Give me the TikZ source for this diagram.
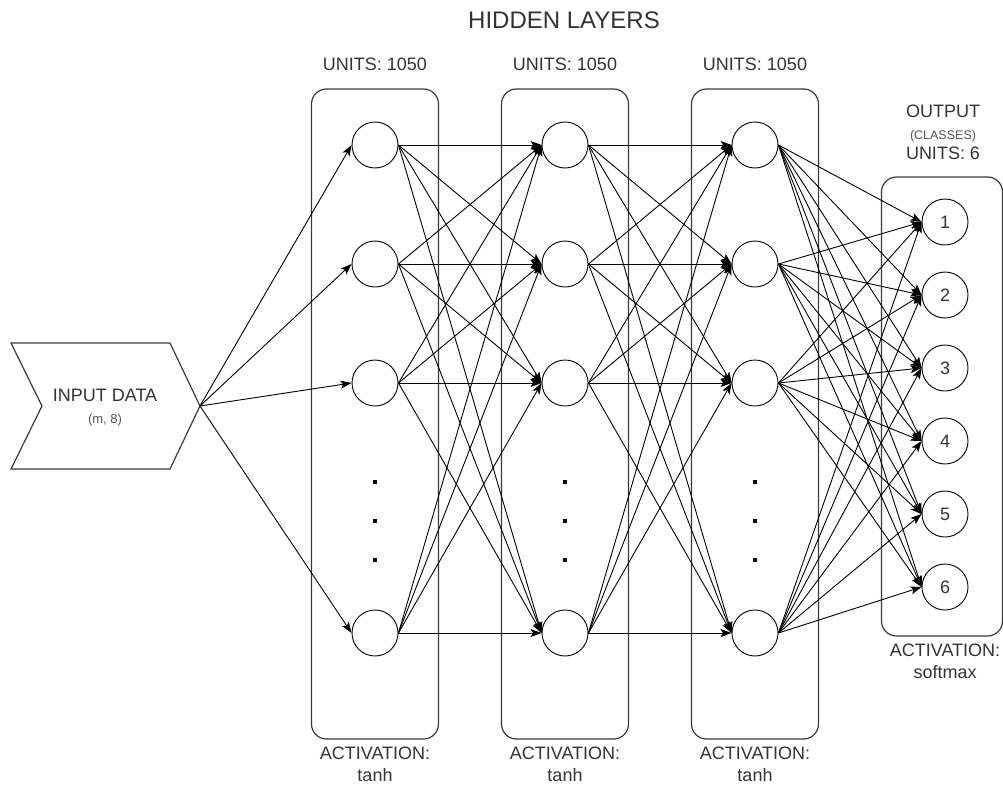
\documentclass[tikz,border=0pt]{standalone}
\usepackage{fontspec}
\setmainfont{Liberation Sans}
\usetikzlibrary{arrows.meta}
\definecolor{txt}{HTML}{333333}
\definecolor{subtxt}{HTML}{555555}
\definecolor{frame}{HTML}{3A3A3A}
\begin{document}
\begin{tikzpicture}[x=1pt,y=-1pt,
  neuron/.style={circle,draw=black,line width=0.9pt,minimum size=46pt,inner sep=0pt,
    font=\fontsize{18}{20}\selectfont,text=txt},
  layerbox/.style={draw=frame,line width=1.2pt,rounded corners=15pt,inner sep=0pt},
  lbl/.style={font=\fontsize{18}{20}\selectfont,text=txt,inner sep=0pt},
  small/.style={font=\fontsize{13}{15}\selectfont,text=subtxt,inner sep=0pt},
  link/.style={draw=black,line width=0.9pt,-{Stealth[length=11pt,width=8pt,inset=2.5pt]}},
  dotmark/.style={fill=black,minimum size=3.5pt,inner sep=0pt}
]
\useasboundingbox (0,0) rectangle (1003,784);

% title
\node[lbl,font=\fontsize{24}{26}\selectfont] (title) at (564,20) {HIDDEN LAYERS};

% hidden layer frames and their captions
\foreach \n/\x in {1/375,2/565,3/755}{
  \node[layerbox,minimum width=127pt,minimum height=650pt] (box\n) at (\x,414) {};
  \node[lbl] (units\n) at (\x,64) {UNITS: 1050};
  \node[lbl] (act\n) at (\x,753) {ACTIVATION:};
  \node[lbl] (fn\n) at (\x,775) {tanh};
}

% output frame and captions
\node[layerbox,minimum width=121pt,minimum height=459pt] (boxout) at (942,406.5) {};
\node[lbl] (outtitle) at (943,111) {OUTPUT};
\node[small,font=\fontsize{12.5}{14}\selectfont] (outclasses) at (943,136) {(CLASSES)};
\node[lbl] (outunits) at (943,153) {UNITS: 6};
\node[lbl] (outact) at (945,650) {ACTIVATION:};
\node[lbl] (outfn) at (945,672) {softmax};

% input block (chevron)
\coordinate (tip) at (200,406);
\draw[frame,line width=1.2pt,line join=miter]
  (11,343) -- (170,343) -- (tip) -- (170,469) -- (11,469) -- (42,406) -- cycle;
\node[lbl] (inlabel) at (105,395) {INPUT DATA};
\node[small] (inshape) at (105,420) {(m, 8)};

% neurons of the hidden layers
\foreach \L/\x in {a/375,b/565,c/755}{
  \foreach \k/\y in {1/145,2/264,3/383,4/633}{
    \node[neuron] (\L\k) at (\x,\y) {};
  }
  \foreach \d/\y in {1/482,2/521,3/560}{
    \node[dotmark] (\L dot\d) at (\x,\y) {};
  }
}

% output neurons
\foreach \k in {1,...,6}{
  \node[neuron] (o\k) at (945,{222+73*(\k-1)}) {\k};
}

% connections
\foreach \j in {1,...,4}{
  \draw[link] (tip) -- (a\j.west);
}
\foreach \i in {1,...,4}{
  \foreach \j in {1,...,4}{
    \draw[link] (a\i.east) -- (b\j.west);
    \draw[link] (b\i.east) -- (c\j.west);
  }
  \foreach \j in {1,...,6}{
    \draw[link] (c\i.east) -- (o\j.west);
  }
}
\end{tikzpicture}
\end{document}
